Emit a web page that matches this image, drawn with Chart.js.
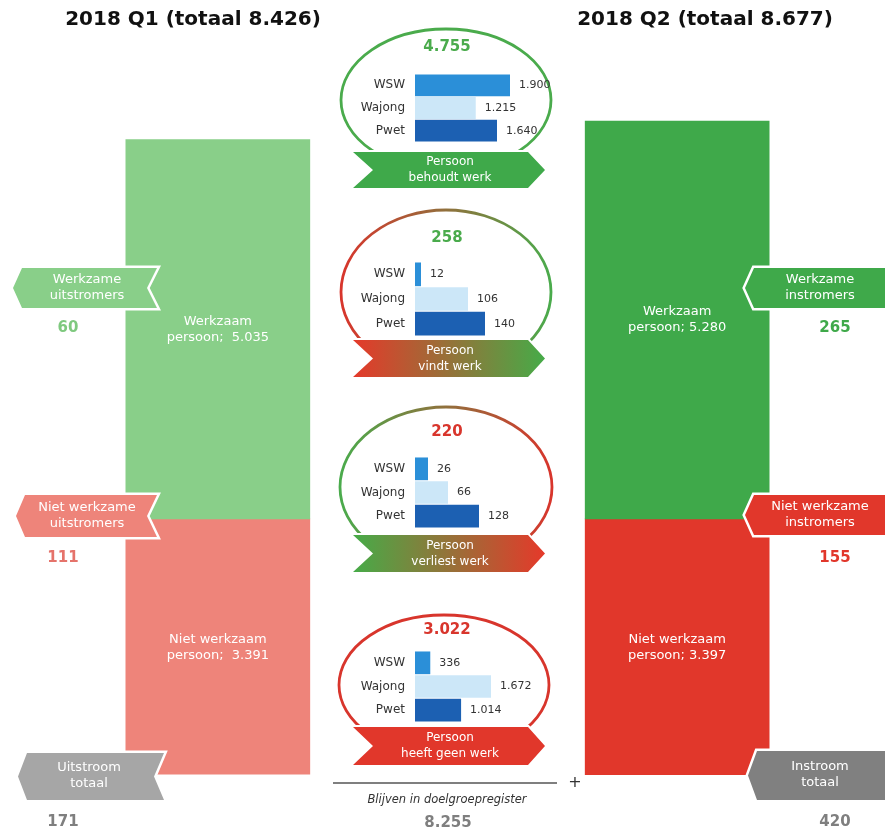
<!DOCTYPE html>
<html>
<head>
<meta charset="utf-8">
<script src="https://cdn.jsdelivr.net/npm/chart.js@4"></script>
<style>
  html, body { margin: 0; padding: 0; background: #fff; }
  #wrap { position: relative; width: 885px; height: 829px; overflow: hidden; }
  #wrap canvas { position: absolute; }
</style>
</head>
<body>
<div id="wrap">
  <canvas id="main" width="885" height="829" style="left:0;top:0"></canvas>
  <canvas id="flow0" width="230" height="68" style="left:330px;top:74px"></canvas>
  <canvas id="flow1" width="230" height="74" style="left:330px;top:262px"></canvas>
  <canvas id="flow2" width="230" height="71" style="left:330px;top:457px"></canvas>
  <canvas id="flow3" width="230" height="71" style="left:330px;top:651px"></canvas>
</div>
<script>
"use strict";

const FONT = "'DejaVu Sans', Verdana, sans-serif";

// standen per kwartaal (middelste categorie blijft leeg voor de stromen)
const kwartalen = ["2018 Q1", "", "2018 Q2"];
const werkzaam = [5035, null, 5280];
const nietWerkzaam = [3391, null, 3397];

// uit- en instroom: [werkzaam, niet werkzaam]
const uitstromers = [60, 111];
const instromers = [265, 155];

// doelgroepen per overgang
const groepen = ["WSW", "Wajong", "Pwet"];
const behoudtWerk = [1900, 1215, 1640];
const vindtWerk = [12, 106, 140];
const verliestWerk = [26, 66, 128];
const geenWerk = [336, 1672, 1014];

const GREEN = "#3fa94a",
  RED = "#e1372b",
  LIGHT_GREEN = "#89cf89",
  SALMON = "#ee847a",
  ELL_GREEN = "#4aab4c",
  ELL_RED = "#d8352c";

const sum = (arr) => arr.reduce((a, b) => a + (b || 0), 0);
const fmt = (n) => String(n).replace(/\B(?=(\d{3})+(?!\d))/g, ".");

/**
 * Banner pointing to the left with a notch on the right
 */
function leftBanner(ctx, xTip, xRight, yTop, yBot, fill) {
  const mid = (yTop + yBot) / 2;
  ctx.beginPath();
  ctx.moveTo(xTip, mid);
  ctx.lineTo(xTip + 9, yTop);
  ctx.lineTo(xRight, yTop);
  ctx.lineTo(xRight - 10, mid);
  ctx.lineTo(xRight, yBot);
  ctx.lineTo(xTip + 9, yBot);
  ctx.closePath();
  ctx.strokeStyle = "#fff";
  ctx.lineWidth = 5;
  ctx.lineJoin = "miter";
  ctx.stroke();
  ctx.fillStyle = fill;
  ctx.fill();
}

/**
 * Banner pointing to the right with a notch on the left
 */
function rightBanner(ctx, x0, x1, yTop, yBot, fill) {
  const mid = (yTop + yBot) / 2;
  ctx.beginPath();
  ctx.moveTo(x0, yTop);
  ctx.lineTo(x1 - 17, yTop);
  ctx.lineTo(x1, mid);
  ctx.lineTo(x1 - 17, yBot);
  ctx.lineTo(x0, yBot);
  ctx.lineTo(x0 + 20, mid);
  ctx.closePath();
  ctx.strokeStyle = "#fff";
  ctx.lineWidth = 4;
  ctx.stroke();
  ctx.fillStyle = fill;
  ctx.fill();
}

function twoLines(ctx, lines, x, mid, size, color) {
  ctx.font = `${size}px ${FONT}`;
  ctx.fillStyle = color;
  ctx.textAlign = "center";
  ctx.textBaseline = "middle";
  ctx.fillText(lines[0], x, mid - 8);
  ctx.fillText(lines[1], x, mid + 8);
}

function hGrad(ctx, x0, x1, c0, c1) {
  const g = ctx.createLinearGradient(x0, 0, x1, 0);
  g.addColorStop(0, c0);
  g.addColorStop(1, c1);
  return g;
}

const decorPlugin = {
  id: "decor",
  afterDatasetsDraw(chart) {
    const ctx = chart.ctx;
    ctx.save();

    // titels
    ctx.font = `bold 20px ${FONT}`;
    ctx.fillStyle = "#111";
    ctx.textAlign = "center";
    ctx.textBaseline = "middle";
    ctx.fillText(`2018 Q1 (totaal ${fmt(werkzaam[0] + nietWerkzaam[0])})`, 193, 20);
    ctx.fillText(`2018 Q2 (totaal ${fmt(werkzaam[2] + nietWerkzaam[2])})`, 705, 20);

    // labels in de staven
    const top = chart.getDatasetMeta(0).data,
      bot = chart.getDatasetMeta(1).data;
    [0, 2].forEach((i) => {
      const sp = i === 0 ? "  " : " ";
      twoLines(ctx, ["Werkzaam", `persoon;${sp}${fmt(werkzaam[i])}`], top[i].x, (top[i].y + top[i].base) / 2, 13, "#fff");
      twoLines(ctx, ["Niet werkzaam", `persoon;${sp}${fmt(nietWerkzaam[i])}`], bot[i].x, (bot[i].y + bot[i].base) / 2 + 1, 13, "#fff");
    });

    // uitstroom links
    leftBanner(ctx, 13, 157, 268, 308, LIGHT_GREEN);
    twoLines(ctx, ["Werkzame", "uitstromers"], 87, 288, 13, "#fff");
    leftBanner(ctx, 16, 157, 495, 537, SALMON);
    twoLines(ctx, ["Niet werkzame", "uitstromers"], 87, 516, 13, "#fff");
    leftBanner(ctx, 18, 164, 753, 800, "#a6a6a6");
    twoLines(ctx, ["Uitstroom", "totaal"], 89, 776, 13, "#fff");

    // instroom rechts
    leftBanner(ctx, 745, 895, 268, 308, GREEN);
    twoLines(ctx, ["Werkzame", "instromers"], 820, 288, 13, "#fff");
    leftBanner(ctx, 745, 895, 495, 535, RED);
    twoLines(ctx, ["Niet werkzame", "instromers"], 820, 515, 13, "#fff");
    leftBanner(ctx, 748, 895, 751, 800, "#808080");
    twoLines(ctx, ["Instroom", "totaal"], 820, 775, 13, "#fff");

    ctx.font = `bold 15px ${FONT}`;
    ctx.textAlign = "center";
    const sideNums = [
      [uitstromers[0], 68, 328, "#7fc97f"],
      [uitstromers[1], 63, 558, "#e5736b"],
      [sum(uitstromers), 63, 822, "#7f7f7f"],
      [instromers[0], 835, 328, GREEN],
      [instromers[1], 835, 558, RED],
      [sum(instromers), 835, 822, "#7f7f7f"],
    ];
    sideNums.forEach(([v, x, y, c]) => {
      ctx.fillStyle = c;
      ctx.fillText(fmt(v), x, y);
    });

    // ellipsen rond de overgangen
    const ells = [
      { cx: 446, cy: 100, rx: 105, ry: 71, stroke: ELL_GREEN, vals: behoudtWerk, num: ELL_GREEN, ny: 47 },
      { cx: 446, cy: 292, rx: 105, ry: 82, stroke: hGrad(ctx, 341, 551, ELL_RED, ELL_GREEN), vals: vindtWerk, num: ELL_GREEN, ny: 238 },
      { cx: 446, cy: 487, rx: 106, ry: 80, stroke: hGrad(ctx, 340, 552, ELL_GREEN, ELL_RED), vals: verliestWerk, num: ELL_RED, ny: 432 },
      { cx: 444, cy: 685, rx: 105, ry: 70, stroke: ELL_RED, vals: geenWerk, num: ELL_RED, ny: 630 },
    ];
    ells.forEach((e) => {
      ctx.beginPath();
      ctx.ellipse(e.cx, e.cy, e.rx, e.ry, 0, 0, Math.PI * 2);
      ctx.strokeStyle = e.stroke;
      ctx.lineWidth = 2.8;
      ctx.stroke();
      ctx.font = `bold 15px ${FONT}`;
      ctx.fillStyle = e.num;
      ctx.textAlign = "center";
      ctx.textBaseline = "middle";
      ctx.fillText(fmt(sum(e.vals)), 447, e.ny);
    });

    // pijlen in het midden
    const banners = [
      [152, 188, GREEN, "behoudt werk"],
      [340, 377, hGrad(ctx, 353, 545, "#e5392a", "#46ab48"), "vindt werk"],
      [535, 572, hGrad(ctx, 353, 545, "#46ab48", "#e5392a"), "verliest werk"],
      [727, 765, RED, "heeft geen werk"],
    ];
    banners.forEach(([y0, y1, fill, txt]) => {
      rightBanner(ctx, 353, 545, y0, y1, fill);
      twoLines(ctx, ["Persoon", txt], 450, (y0 + y1) / 2, 12, "#fff");
    });

    // totaal dat in het register blijft
    ctx.beginPath();
    ctx.moveTo(333, 783);
    ctx.lineTo(557, 783);
    ctx.strokeStyle = "#555";
    ctx.lineWidth = 1.5;
    ctx.stroke();
    ctx.font = `16px ${FONT}`;
    ctx.fillStyle = "#333";
    ctx.fillText("+", 575, 783);
    ctx.font = `italic 11.5px ${FONT}`;
    ctx.fillText("Blijven in doelgroepregister", 447, 800);
    ctx.font = `bold 15px ${FONT}`;
    ctx.fillStyle = "#7f7f7f";
    const blijven = sum(behoudtWerk) + sum(vindtWerk) + sum(verliestWerk) + sum(geenWerk);
    ctx.fillText(fmt(blijven), 448, 823);

    ctx.restore();
  },
};

new Chart(document.getElementById("main"), {
  type: "bar",
  data: {
    labels: kwartalen,
    datasets: [
      {
        label: "Werkzaam persoon",
        data: werkzaam,
        backgroundColor: [LIGHT_GREEN, "transparent", GREEN],
        barThickness: 184,
        borderWidth: 0,
      },
      {
        label: "Niet werkzaam persoon",
        data: nietWerkzaam.map((v) => (v === null ? null : -v)),
        backgroundColor: [SALMON, "transparent", RED],
        barThickness: 184,
        borderWidth: 0,
      },
    ],
  },
  options: {
    responsive: false,
    animation: false,
    layout: { padding: { left: 103, right: 93, top: 97, bottom: 39 } },
    plugins: { legend: { display: false }, tooltip: { enabled: false } },
    scales: {
      x: { display: false, stacked: true },
      y: { display: false, stacked: true, min: -3600, max: 5600 },
    },
  },
  plugins: [decorPlugin],
});

const valueLabels = {
  id: "valueLabels",
  afterDatasetsDraw(chart) {
    const ctx = chart.ctx;
    const values = chart.data.datasets[0].data;
    ctx.save();
    ctx.font = `11px ${FONT}`;
    ctx.fillStyle = "#333";
    ctx.textBaseline = "middle";
    ctx.textAlign = "left";
    chart.getDatasetMeta(0).data.forEach((bar, i) => {
      ctx.fillText(fmt(values[i]), bar.x + 9, bar.y);
    });
    ctx.restore();
  },
};

/**
 * Small horizontal bar chart inside an ellipse
 */
function buildFlow(id, values, max) {
  return new Chart(document.getElementById(id), {
    type: "bar",
    data: {
      labels: groepen,
      datasets: [
        {
          data: values,
          backgroundColor: ["#2b8fd8", "#cce7f8", "#1c60b2"],
          barPercentage: 0.96,
          categoryPercentage: 1,
        },
      ],
    },
    options: {
      indexAxis: "y",
      responsive: false,
      animation: false,
      layout: { padding: { right: 45 } },
      plugins: { legend: { display: false }, tooltip: { enabled: false } },
      scales: {
        x: { display: false, min: 0, max: max },
        y: {
          grid: { display: false, drawTicks: false },
          border: { display: false },
          ticks: { color: "#333", font: { family: FONT, size: 12 }, padding: 10 },
          afterFit(scale) {
            // fixed label column, no extra room above/below the bars
            scale.width = 85;
            scale.paddingTop = 0;
            scale.paddingBottom = 0;
          },
        },
      },
    },
    plugins: [valueLabels],
  });
}

buildFlow("flow0", behoudtWerk, 2000);
buildFlow("flow1", vindtWerk, 200);
buildFlow("flow2", verliestWerk, 200);
buildFlow("flow3", geenWerk, 2200);
</script>
</body>
</html>
